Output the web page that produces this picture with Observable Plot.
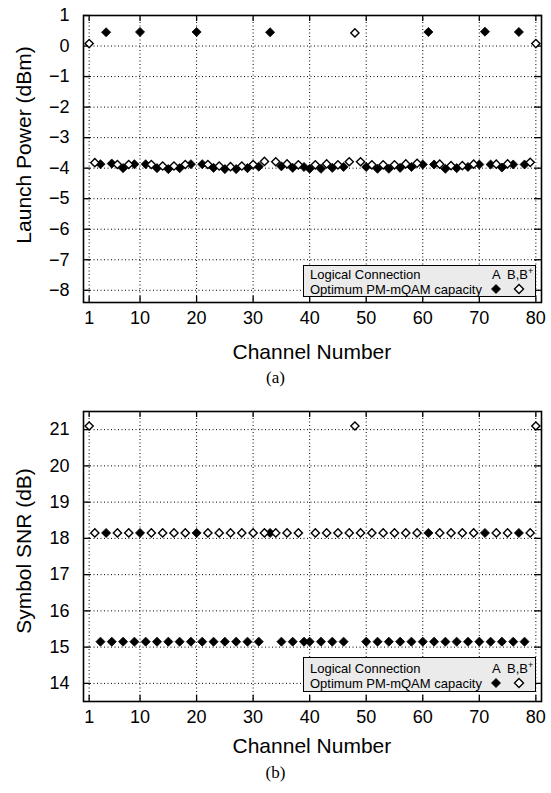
<!DOCTYPE html>
<html><head><meta charset="utf-8">
<script src="https://cdn.jsdelivr.net/npm/d3@7"></script>
<script src="https://cdn.jsdelivr.net/npm/@observablehq/plot@0.6"></script>
<style>
body{margin:0;background:#fff;}
#wrap{position:relative;width:551px;height:793px;overflow:hidden;font-family:"Liberation Sans",Arial,sans-serif;color:#000;}
#wrap > svg{position:absolute;left:0;}
.title{position:absolute;font-size:21px;white-space:nowrap;}
.ytitle{position:absolute;font-size:21px;white-space:nowrap;transform:translate(-50%,-50%) rotate(-90deg);}
.cap{position:absolute;left:0;width:551px;text-align:center;font-family:"Liberation Serif","Times New Roman",serif;font-size:17px;}
.leg{position:absolute;background:#ebebeb;border:1px solid #000;font-size:13px;box-sizing:border-box;}
.leg span{position:absolute;white-space:nowrap;line-height:1;}
</style></head>
<body><div id="wrap"></div>
<script>
// ---- data ----
const xTicks = [1, 10, 20, 30, 40, 50, 60, 70, 80];
const yTicksPower = [1, 0, -1, -2, -3, -4, -5, -6, -7, -8];
const yTicksSnr = [14, 15, 16, 17, 18, 19, 20, 21];

// Logical connection A (filled diamonds)
const chanA = [3, 4, 5, 7, 9, 10, 11, 13, 15, 17, 19, 20, 21, 23, 25, 27, 29, 31, 33, 35, 37, 39, 40, 42, 44, 46, 50, 52, 54, 56, 58, 60, 61, 62, 64, 66, 68, 70, 71, 72, 74, 76, 77, 78];
const powerA = [-3.87, 0.45, -3.85, -4.0, -3.87, 0.46, -3.87, -4.0, -4.03, -4.0, -3.87, 0.46, -3.87, -3.99, -4.03, -4.03, -4.0, -3.95, 0.45, -3.94, -3.99, -3.96, -4.02, -4.02, -3.99, -3.96, -3.96, -4.02, -4.02, -3.99, -3.96, -3.88, 0.46, -3.88, -4.02, -4.0, -3.96, -3.88, 0.47, -3.88, -3.98, -3.88, 0.46, -3.88];
const snrA = [15.15, 18.15, 15.15, 15.15, 15.15, 18.15, 15.15, 15.15, 15.15, 15.15, 15.15, 18.15, 15.15, 15.15, 15.15, 15.15, 15.15, 15.15, 18.15, 15.15, 15.15, 15.15, 15.15, 15.15, 15.15, 15.15, 15.15, 15.15, 15.15, 15.15, 15.15, 15.15, 18.15, 15.15, 15.15, 15.15, 15.15, 15.15, 18.15, 15.15, 15.15, 15.15, 18.15, 15.15];

// Logical connections B, B+ (open diamonds)
const chanB = [1, 2, 6, 8, 12, 14, 16, 18, 22, 24, 26, 28, 30, 32, 34, 36, 38, 41, 43, 45, 47, 48, 49, 51, 53, 55, 57, 59, 63, 65, 67, 69, 73, 75, 79, 80];
const powerB = [0.08, -3.82, -3.88, -3.88, -3.88, -3.93, -3.93, -3.88, -3.88, -3.93, -3.95, -3.93, -3.88, -3.78, -3.79, -3.86, -3.89, -3.89, -3.86, -3.89, -3.79, 0.43, -3.79, -3.89, -3.89, -3.89, -3.86, -3.84, -3.87, -3.92, -3.92, -3.87, -3.87, -3.86, -3.81, 0.08];
const snrB = [21.1, 18.15, 18.15, 18.15, 18.15, 18.15, 18.15, 18.15, 18.15, 18.15, 18.15, 18.15, 18.15, 18.15, 18.15, 18.15, 18.15, 18.15, 18.15, 18.15, 18.15, 21.1, 18.15, 18.15, 18.15, 18.15, 18.15, 18.15, 18.15, 18.15, 18.15, 18.15, 18.15, 18.15, 18.15, 21.1];

const dataA = chanA.map((c, i) => ({ch: c, power: powerA[i], snr: snrA[i]}));
const dataB = chanB.map((c, i) => ({ch: c, power: powerB[i], snr: snrB[i]}));

const W = 551, ML = 83, MR = 10, MT = 15;

function panel(yField, yDomain, yTicks, frameH, svgH) {
  const frameW = W - ML - MR;
  return Plot.plot({
    width: W, height: svgH,
    marginLeft: ML, marginRight: MR, marginTop: MT, marginBottom: svgH - MT - frameH,
    style: {fontFamily: "'Liberation Sans', Arial, sans-serif", fontSize: "18px", color: "#000", background: "transparent"},
    x: {domain: [0, 81], ticks: xTicks},
    y: {domain: yDomain, ticks: yTicks},
    marks: [
      Plot.gridX(xTicks, {stroke: "#000", strokeOpacity: 1, strokeWidth: 1, strokeDasharray: "1,2.5"}),
      Plot.gridY(yTicks, {stroke: "#000", strokeOpacity: 1, strokeWidth: 1, strokeDasharray: "1,2.5"}),
      Plot.tickX(xTicks, {x: d => d, stroke: "#000", strokeWidth: 1.3, insetTop: frameH - 6}),
      Plot.tickX(xTicks, {x: d => d, stroke: "#000", strokeWidth: 1.3, insetBottom: frameH - 6}),
      Plot.tickY(yTicks, {y: d => d, stroke: "#000", strokeWidth: 1.3, insetRight: frameW - 7}),
      Plot.tickY(yTicks, {y: d => d, stroke: "#000", strokeWidth: 1.3, insetLeft: frameW - 7}),
      Plot.axisX(xTicks, {tickSize: 0, tickPadding: 9, label: null, fontSize: 18}),
      Plot.axisY(yTicks, {tickSize: 0, tickPadding: 14, label: null, fontSize: 18}),
      Plot.dot(dataA, {x: "ch", y: yField, symbol: "diamond2", r: 4.1, fill: "#000", stroke: "#000", strokeWidth: 0.8}),
      Plot.dot(dataB, {x: "ch", y: yField, symbol: "diamond2", r: 3.7, fill: "#fff", stroke: "#000", strokeWidth: 1.4}),
      Plot.frame({stroke: "#000", strokeWidth: 1.6})
    ]
  });
}

const wrap = document.getElementById("wrap");
const topPanel = panel("power", [-8.4, 1], yTicksPower, 287, 330);
topPanel.style.top = "0px";
wrap.appendChild(topPanel);
const botPanel = panel("snr", [13.5, 21.5], yTicksSnr, 290, 330);
botPanel.style.top = "396px";
wrap.appendChild(botPanel);

function addDiv(cls, html, css) {
  const d = document.createElement("div");
  d.className = cls; d.innerHTML = html;
  Object.assign(d.style, css);
  wrap.appendChild(d);
  return d;
}
const diamond = (fill) => `<svg width="12" height="12" viewBox="-6 -6 12 12"><path d="M0,-4.5L4.5,0L0,4.5L-4.5,0Z" fill="${fill}" stroke="#000" stroke-width="${fill === '#000' ? 0.8 : 1.4}"/></svg>`;

// axis titles
const t1 = addDiv("title", "Channel Number", {top: "340px"});
const t2 = addDiv("title", "Channel Number", {top: "734px"});
[t1, t2].forEach(t => { t.style.left = (ML + (W - ML - MR) / 2 - t.offsetWidth / 2) + "px"; });
addDiv("ytitle", "Launch Power (dBm)", {left: "24px", top: "145px"});
addDiv("ytitle", "Symbol SNR (dB)", {left: "24px", top: "551px"});
addDiv("cap", "(a)", {top: "368px"});
addDiv("cap", "(b)", {top: "763px"});

function legend(topPx, h) {
  const lg = addDiv("leg", "", {left: "303px", top: topPx + "px", width: "233px", height: h + "px"});
  lg.innerHTML = `<span style="left:6px;top:${h/2 - 14}px">Logical Connection</span>
  <span style="left:6px;top:${h/2 + 1}px">Optimum PM-mQAM capacity</span>
  <span style="left:188px;top:${h/2 - 14}px">A</span>
  <span style="left:203px;top:${h/2 - 14}px">B,B<sup style="font-size:9px;vertical-align:5px;line-height:0">+</sup></span>`;
  const d1 = document.createElement("div"); d1.innerHTML = diamond("#000");
  Object.assign(d1.style, {position: "absolute", left: "186px", top: (h/2 + 1) + "px", lineHeight: 0});
  const d2 = document.createElement("div"); d2.innerHTML = diamond("#fff");
  Object.assign(d2.style, {position: "absolute", left: "209px", top: (h/2 + 1) + "px", lineHeight: 0});
  lg.appendChild(d1); lg.appendChild(d2);
}
legend(265, 32);
legend(657, 35);
</script>
</body></html>
